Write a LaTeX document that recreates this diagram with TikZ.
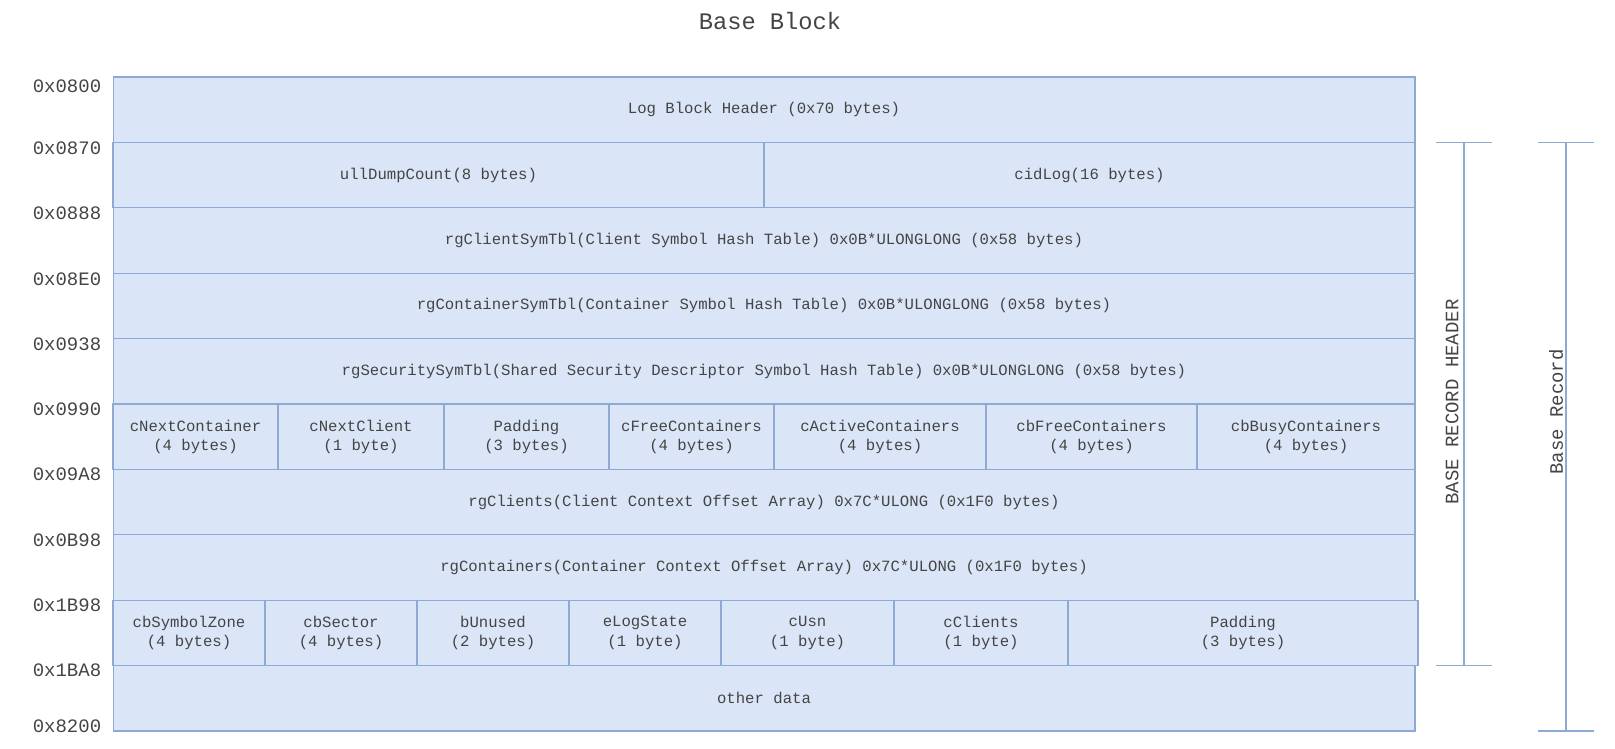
\documentclass[tikz,border=0pt]{standalone}
\usepackage{fontspec}
\setmonofont{Liberation Mono}
\usetikzlibrary{arrows}
\definecolor{cellfill}{HTML}{DAE6F8}
\definecolor{celldraw}{HTML}{8EA9D3}
\definecolor{txt}{HTML}{444444}
\tikzstyle{cell} = [rectangle, draw=celldraw, fill=cellfill, line width=0.7pt, minimum height=1.308cm, inner sep=0pt, text centered, align=center, text=txt, font=\ttfamily\fontsize{8.9}{11}\selectfont]
\tikzstyle{full} = [cell, minimum width=26.04cm]
\tikzstyle{addr} = [text=txt, font=\ttfamily\fontsize{10.8}{12}\selectfont]
\tikzstyle{span} = [draw=celldraw, line width=1pt]
\tikzstyle{spanlabel} = [text=txt, rotate=90, font=\ttfamily\fontsize{10.8}{12}\selectfont]

\begin{document}
\begin{tikzpicture}[x=0.02cm, y=-0.02cm]
	\useasboundingbox (0,0) rectangle (1615,748);
	\node [text=txt, font=\ttfamily\fontsize{13.5}{15}\selectfont] at (770,21) (title) {Base Block};

	% rows
	\node [full] at (764,109.7) (loghdr) {Log Block Header (0x70 bytes)};
	\node [cell, minimum width=13.02cm] at (438.5,175.1) (dumpcount) {ullDumpCount(8 bytes)};
	\node [cell, minimum width=13.02cm] at (1089.5,175.1) (cidlog) {cidLog(16 bytes)};
	\node [full] at (764,240.5) (clientsym) {rgClientSymTbl(Client Symbol Hash Table) 0x0B*ULONGLONG (0x58 bytes)};
	\node [full] at (764,305.9) (containersym) {rgContainerSymTbl(Container Symbol Hash Table) 0x0B*ULONGLONG (0x58 bytes)};
	\node [full] at (764,371.3) (securitysym) {rgSecuritySymTbl(Shared Security Descriptor Symbol Hash Table) 0x0B*ULONGLONG (0x58 bytes)};

	\node [cell, minimum width=3.3cm] at (195.5,436.7) (nextcont) {cNextContainer\\(4 bytes)};
	\node [cell, minimum width=3.32cm] at (361,436.7) (nextclient) {cNextClient\\(1 byte)};
	\node [cell, minimum width=3.3cm] at (526.5,436.7) (padA) {Padding\\(3 bytes)};
	\node [cell, minimum width=3.3cm] at (691.5,436.7) (freecont) {cFreeContainers\\(4 bytes)};
	\node [cell, minimum width=4.24cm] at (880,436.7) (activecont) {cActiveContainers\\(4 bytes)};
	\node [cell, minimum width=4.22cm] at (1091.5,436.7) (cbfree) {cbFreeContainers\\(4 bytes)};
	\node [cell, minimum width=4.36cm] at (1306,436.7) (cbbusy) {cbBusyContainers\\(4 bytes)};

	\node [full] at (764,502.1) (clients) {rgClients(Client Context Offset Array) 0x7C*ULONG (0x1F0 bytes)};
	\node [full] at (764,567.5) (containers) {rgContainers(Container Context Offset Array) 0x7C*ULONG (0x1F0 bytes)};

	\node [cell, minimum width=3.04cm] at (189,632.9) (symzone) {cbSymbolZone\\(4 bytes)};
	\node [cell, minimum width=3.04cm] at (341,632.9) (sector) {cbSector\\(4 bytes)};
	\node [cell, minimum width=3.04cm] at (493,632.9) (unused) {bUnused\\(2 bytes)};
	\node [cell, minimum width=3.04cm] at (645,632.9) (logstate) {eLogState\\(1 byte)};
	\node [cell, minimum width=3.46cm] at (807.5,632.9) (usn) {cUsn\\(1 byte)};
	\node [cell, minimum width=3.48cm] at (981,632.9) (nclients) {cClients\\(1 byte)};
	\node [cell, minimum width=7.0cm] at (1243,632.9) (padB) {Padding\\(3 bytes)};

	\node [full] at (764,698.3) (other) {other data};

	% offsets
	\node [addr] at (67,86) (a0800) {0x0800};
	\node [addr] at (67,148) (a0870) {0x0870};
	\node [addr] at (67,213) (a0888) {0x0888};
	\node [addr] at (67,279) (a08E0) {0x08E0};
	\node [addr] at (67,344) (a0938) {0x0938};
	\node [addr] at (67,409) (a0990) {0x0990};
	\node [addr] at (67,474) (a09A8) {0x09A8};
	\node [addr] at (67,540) (a0B98) {0x0B98};
	\node [addr] at (67,605) (a1B98) {0x1B98};
	\node [addr] at (67,670) (a1BA8) {0x1BA8};
	\node [addr] at (67,726) (a8200) {0x8200};

	% spans
	\coordinate (hdrtop) at (1464,142.4);
	\coordinate (hdrbot) at (1464,665.6);
	\coordinate (rectop) at (1566,142.4);
	\coordinate (recbot) at (1566,731);
	\draw [span] (hdrtop) -- (hdrbot);
	\draw [span] ([xshift=-16]hdrtop) -- ([xshift=16]hdrtop);
	\draw [span] ([xshift=-16]hdrbot) -- ([xshift=16]hdrbot);
	\draw [span] (rectop) -- (recbot);
	\draw [span] ([xshift=-16]rectop) -- ([xshift=16]rectop);
	\draw [span] ([xshift=-16]recbot) -- ([xshift=16]recbot);
	\node [spanlabel] at (1452,402) (hdrlabel) {BASE RECORD HEADER};
	\node [spanlabel] at (1556,412) (reclabel) {Base Record};
\end{tikzpicture}
\end{document}
